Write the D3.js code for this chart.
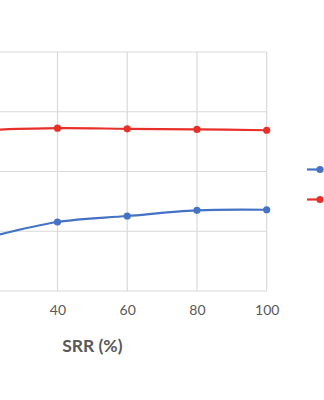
<!DOCTYPE html>
<html><head><meta charset="utf-8">
<script src="https://cdn.jsdelivr.net/npm/d3@7"></script>
<style>html,body{margin:0;padding:0;background:#fff;overflow:hidden}</style>
</head><body>
<script>
const srr = [20, 40, 60, 80, 100];
const seriesBlue = [17.9, 23.1, 25.1, 27.0, 27.2];
const seriesRed = [53.9, 54.5, 54.3, 54.1, 53.8];
const gridX = [0, 20, 40, 60, 80, 100];
const xTickLabels = [40, 60, 80, 100];
const yTicks = [0, 20, 40, 60, 80];
const xTitle = "SRR (%)";

const W = 324, H = 400;
const svg = d3.select("body").append("svg").attr("width", W).attr("height", H);
const x = d3.scaleLinear().domain([0, 100]).range([-82, 266.7]);
const y = d3.scaleLinear().domain([0, 80]).range([291, 52]);
const grid = "#d9d9d9";

svg.append("g").selectAll("line").data(yTicks).join("line")
  .attr("x1", x(0)).attr("x2", x(100))
  .attr("y1", d => y(d)).attr("y2", d => y(d))
  .attr("stroke", grid).attr("stroke-width", 1.2);
svg.append("g").selectAll("line").data(gridX).join("line")
  .attr("x1", d => x(d)).attr("x2", d => x(d))
  .attr("y1", y(0)).attr("y2", y(80))
  .attr("stroke", grid).attr("stroke-width", 1.2);

const xAxis = svg.append("g").attr("transform", `translate(0,${y(0)})`)
  .call(d3.axisBottom(x).tickValues(xTickLabels).tickSize(0).tickPadding(14));
xAxis.select(".domain").remove();
xAxis.selectAll("text").attr("font-family", "Lato, 'Open Sans', sans-serif")
  .attr("font-size", 14).attr("fill", "#595959");

svg.append("text").attr("x", (x(0) + x(100)) / 2).attr("y", 351.5)
  .attr("text-anchor", "middle").attr("font-family", "Lato, 'Open Sans', sans-serif")
  .attr("font-weight", "bold").attr("font-size", 17.5).attr("fill", "#595959").text(xTitle);

const line = d3.line().x((d, i) => x(srr[i])).y(d => y(d)).curve(d3.curveCatmullRom.alpha(0.5));
const series = [{v: seriesBlue, c: "#4472C4"}, {v: seriesRed, c: "#E8302A"}];
series.forEach(s => {
  svg.append("path").datum(s.v).attr("d", line).attr("fill", "none")
    .attr("stroke", s.c).attr("stroke-width", 2.2);
  svg.append("g").selectAll("circle").data(s.v).join("circle")
    .attr("cx", (d, i) => x(srr[i])).attr("cy", d => y(d)).attr("r", 3.6).attr("fill", s.c);
});

// legend symbols (labels lie beyond the cropped frame)
const leg = svg.append("g");
series.forEach((s, i) => {
  const ly = 169.5 + i * 30;
  leg.append("line").attr("x1", 307).attr("x2", 320).attr("y1", ly).attr("y2", ly)
    .attr("stroke", s.c).attr("stroke-width", 2.2);
  leg.append("circle").attr("cx", 320).attr("cy", ly).attr("r", 3.6).attr("fill", s.c);
});
</script>
</body></html>
